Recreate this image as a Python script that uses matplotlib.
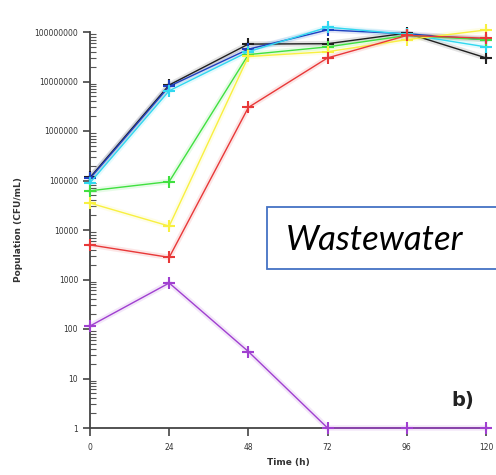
import matplotlib
matplotlib.use('Agg')
import matplotlib.pyplot as plt
from matplotlib.patches import Rectangle
from matplotlib.ticker import LogLocator, FixedLocator, FuncFormatter, NullFormatter

# 数据
time_h = [0, 24, 48, 72, 96, 120]
series = {
    'black':   [1.15e5, 8.5e6, 5.7e7, 5.8e7, 9.5e7, 3.0e7],
    'blue':    [1.1e5, 8.0e6, 4.5e7, 1.1e8, 9.2e7, 7.0e7],
    'cyan':    [9.0e4, 6.5e6, 4.0e7, 1.25e8, 9.0e7, 5.0e7],
    'green':   [6.2e4, 9.5e4, 3.5e7, 5.0e7, 8.5e7, 7.0e7],
    'yellow':  [3.5e4, 1.2e4, 3.2e7, 4.0e7, 7.0e7, 1.1e8],
    'red':     [5.0e3, 2.8e3, 3.0e6, 3.0e7, 8.5e7, 7.5e7],
    'purple':  [115, 850, 35, 1, 1, 1],
}
colors = {
    'black': '#202020', 'blue': '#2040c0', 'cyan': '#30d8f0', 'green': '#40e040',
    'yellow': '#f8f040', 'red': '#e83838', 'purple': '#a040d0',
}
x_ticks = [0, 24, 48, 72, 96, 120]
y_ticks = [1, 10, 100, 1000, 10000, 100000, 1000000, 10000000, 100000000]

fig = plt.figure(figsize=(4.96, 4.75), dpi=100)
ax = fig.add_axes([90 / 496, 47 / 475, 396 / 496, 396 / 475])

for name, vals in series.items():
    c = colors[name]
    # 模糊光晕
    ax.plot(time_h, vals, color=c, lw=4, alpha=0.12, clip_on=False, solid_capstyle='round')
    ax.plot(time_h, vals, color=c, lw=1.0, marker='+', ms=8, mew=1.5, clip_on=False, zorder=3)

ax.set_yscale('log')
ax.set_ylim(1, 1e8)
ax.set_xlim(0, 120)
ax.xaxis.set_major_locator(FixedLocator(x_ticks))
ax.yaxis.set_major_locator(FixedLocator(y_ticks))
ax.yaxis.set_minor_locator(LogLocator(base=10, subs=range(2, 10)))
ax.yaxis.set_major_formatter(FuncFormatter(lambda v, p: '%d' % round(v)))
ax.yaxis.set_minor_formatter(NullFormatter())

for s in ['top', 'right']:
    ax.spines[s].set_visible(False)
for s in ['left', 'bottom']:
    ax.spines[s].set_color('#444444')
    ax.spines[s].set_linewidth(1.3)

ax.tick_params(axis='y', which='major', direction='out', length=5, width=1.2,
               labelsize=5.5, colors='#444444', labelcolor='#333333')
ax.tick_params(axis='y', which='minor', direction='in', length=4, width=0.8, colors='#555555')
ax.tick_params(axis='x', which='major', direction='out', length=6, width=1.2,
               labelsize=5.5, colors='#444444', labelcolor='#333333', pad=5)

ax.set_ylabel('Population (CFU/mL)', fontsize=6.5, fontweight='bold', color='#333333', labelpad=8)
ax.set_xlabel('Time (h)', fontsize=6.5, fontweight='bold', color='#333333', labelpad=4)

ax.text(0.97, 0.07, 'b)', transform=ax.transAxes, fontsize=14, fontweight='bold',
        ha='right', va='center', color='#222222')

# 标注框
fig.patches.append(Rectangle((267 / 496, (475 - 269) / 475), 0.6, 62 / 475,
                             transform=fig.transFigure, facecolor='white',
                             edgecolor='#4472c4', lw=1.3, zorder=5))
fig.text(286 / 496, (475 - 240) / 475, 'Wastewater', fontsize=25, style='italic',
         family='Lato', ha='left', va='center', color='black', zorder=6)

plt.savefig('out.png', dpi=100)
plt.close()
